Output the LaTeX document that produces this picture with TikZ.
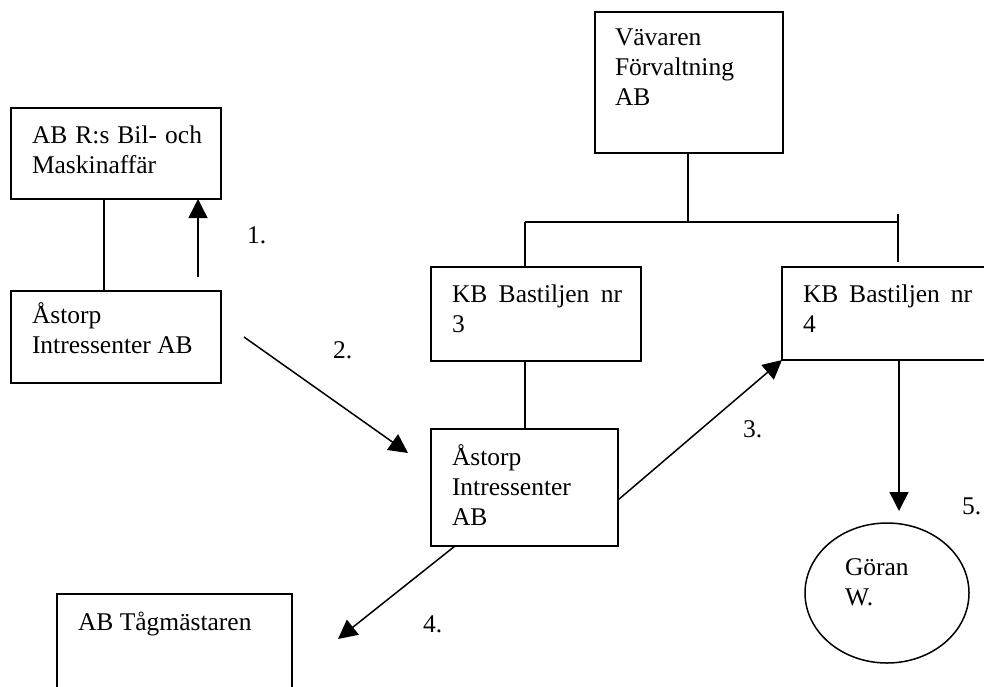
\documentclass[tikz,border=0pt]{standalone}
\usepackage{fontspec}
\setmainfont{Liberation Serif}
\usetikzlibrary{arrows.meta,calc,shapes.geometric}
\begin{document}
\begin{tikzpicture}[x=1pt,y=-1pt,
  box/.style={draw,line width=1.5pt,rectangle,inner sep=0pt,outer sep=0pt,anchor=north west},
  txt/.style={anchor=base west,inner sep=0pt,outer sep=0pt,font=\fontsize{25.5}{30}\selectfont},
  lbl/.style={anchor=base west,inner sep=0pt,font=\fontsize{25.5}{30}\selectfont},
  ln/.style={line width=1.5pt},
  arr/.style={line width=1.5pt,-{Triangle[length=19pt,width=19pt]}}]
\useasboundingbox (0,0) rectangle (984,686);
\clip (0,0) rectangle (984,686);
% boxes
\node[box,minimum width=210pt,minimum height=91pt] (b1) at (11,108) {};
\node[box,minimum width=210pt,minimum height=92pt] (b2) at (11,291) {};
\node[box,minimum width=188pt,minimum height=141pt] (vav) at (595,12) {};
\node[box,minimum width=210pt,minimum height=94pt] (kb3) at (431,267) {};
\node[box,minimum width=230pt,minimum height=93pt] (kb4) at (782,267) {};
\node[box,minimum width=187pt,minimum height=117pt] (mid) at (431,429) {};
\node[box,minimum width=235pt,minimum height=120pt] (tag) at (57,594) {};
\node[draw,line width=1.5pt,ellipse,minimum width=164pt,minimum height=140pt,inner sep=0pt] (gor) at (887,593) {};
% texts
\node[txt] (t1) at ([shift={(21,35)}]b1.north west) {\begin{tabular}[t]{@{}l@{}}\makebox[170pt][s]{AB R:s Bil- och}\\Maskinaffär\end{tabular}};
\node[txt] (t2) at ([shift={(21,32)}]b2.north west) {\begin{tabular}[t]{@{}l@{}}Åstorp\\Intressenter AB\end{tabular}};
\node[txt] (t3) at ([shift={(20,33)}]vav.north west) {\begin{tabular}[t]{@{}l@{}}Vävaren\\Förvaltning\\AB\end{tabular}};
\node[txt] (t4) at ([shift={(21,35)}]kb3.north west) {\begin{tabular}[t]{@{}l@{}}\makebox[170pt][s]{KB Bastiljen nr}\\3\end{tabular}};
\node[txt] (t5) at ([shift={(21,35)}]kb4.north west) {\begin{tabular}[t]{@{}l@{}}\makebox[169pt][s]{KB Bastiljen nr}\\4\end{tabular}};
\node[txt] (t6) at ([shift={(21,36)}]mid.north west) {\begin{tabular}[t]{@{}l@{}}Åstorp\\Intressenter\\AB\end{tabular}};
\node[txt] (t7) at ([shift={(21,36)}]tag.north west) {AB Tågmästaren};
\node[txt] (t8) at (845,575) {\begin{tabular}[t]{@{}l@{}}Göran\\W.\end{tabular}};
% labels
\node[lbl] (l1) at (247,243) {1.};
\node[lbl] (l2) at (333,358) {2.};
\node[lbl] (l3) at (743,437) {3.};
\node[lbl] (l4) at (423,632) {4.};
\node[lbl] (l5) at (962,514) {5.};
% tree
\coordinate (jn) at (688,222);
\coordinate (tkt) at (898,214);
\coordinate (tkb) at (898,262);
\draw[ln] (vav.south -| jn) -- (jn);
\draw[ln] (jn -| kb3.north west) ++(94,0) coordinate (jl) -- (tkt |- jn);
\draw[ln] (jl) -- (jl |- kb3.north);
\draw[ln] (tkt) -- (tkb);
% connectors
\draw[ln] ([xshift=93pt]b1.south west) -- ([xshift=93pt]b2.north west);
\draw[ln] ([xshift=94pt]kb3.south west) -- ([xshift=94pt]mid.north west);
\coordinate (a1s) at (198,277);
\draw[arr] (a1s) -- (a1s |- b1.south);
\coordinate (a2s) at (244,337);
\coordinate (a2e) at (408,453);
\draw[arr] (a2s) -- (a2e);
\coordinate (a3s) at (618,500);
\draw[arr] (a3s) -- (kb4.south west);
\coordinate (a4s) at (455,546);
\coordinate (a4e) at (338,639);
\draw[arr] (a4s) -- (a4e);
\coordinate (a5s) at (899,361);
\coordinate (a5e) at (899,511);
\draw[arr] (a5s) -- (a5e);
\end{tikzpicture}
\end{document}
